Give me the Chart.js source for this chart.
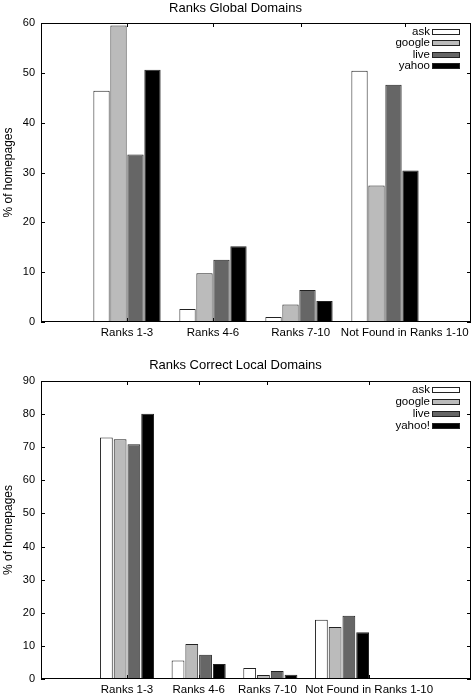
<!DOCTYPE html>
<html>
<head>
<meta charset="utf-8">
<title>Ranks Global / Local Domains</title>
<script src="https://cdn.jsdelivr.net/npm/chart.js@4.4.1/dist/chart.umd.min.js"></script>
<style>
    html, body { margin: 0; padding: 0; background: #fff; }
    canvas { display: block; }
</style>
</head>
<body>
<canvas id="chartGlobal" width="472" height="340"></canvas>
<canvas id="chartLocal" width="472" height="357"></canvas>
<script>
// categories along the x axis (same for both panels)
const categories = ['Ranks 1-3', 'Ranks 4-6', 'Ranks 7-10', 'Not Found in Ranks 1-10'];

// top panel: Ranks Global Domains (% of homepages)
const globalSeries = ['ask', 'google', 'live', 'yahoo'];
const globalAsk    = [46.4, 2.6, 1.0, 50.4];
const globalGoogle = [59.5, 9.8, 3.5, 27.4];
const globalLive   = [33.6, 12.5, 6.4, 47.6];
const globalYahoo  = [50.6, 15.2, 4.2, 30.4];
const globalTicks  = [0, 10, 20, 30, 40, 50, 60];

// bottom panel: Ranks Correct Local Domains (% of homepages)
const localSeries = ['ask', 'google', 'live', 'yahoo!'];
const localAsk    = [72.9, 5.6, 3.3, 17.9];
const localGoogle = [72.4, 10.6, 1.2, 15.7];
const localLive   = [70.9, 7.3, 2.4, 19.1];
const localYahoo  = [80.1, 4.5, 1.3, 14.1];
const localTicks  = [0, 10, 20, 30, 40, 50, 60, 70, 80, 90];

(function () {
    'use strict';

    Chart.defaults.font.family = "'Liberation Sans', Arial, Helvetica, sans-serif";
    Chart.defaults.color = '#000';

    const fills = ['#ffffff', '#bbbbbb', '#666666', '#000000'];
    const TICK = 4;

    // gnuplot look: closed frame, inward mirrored tics, key in the top-right corner
    const gnuplotFrame = {
        id: 'gnuplotFrame',
        beforeDatasetsDraw(chart) {
            const { ctx, chartArea: a, scales: { x, y } } = chart;
            ctx.save();
            ctx.strokeStyle = '#000';
            ctx.lineWidth = 1;
            ctx.beginPath();
            y.ticks.forEach(t => {
                const py = Math.round(y.getPixelForValue(t.value)) + 0.5;
                ctx.moveTo(a.left, py); ctx.lineTo(a.left + TICK, py);
                ctx.moveTo(a.right, py); ctx.lineTo(a.right - TICK, py);
            });
            x.ticks.forEach(t => {
                const px = Math.round(x.getPixelForValue(t.value)) + 0.5;
                ctx.moveTo(px, a.top); ctx.lineTo(px, a.top + TICK);
                ctx.moveTo(px, a.bottom); ctx.lineTo(px, a.bottom - TICK);
            });
            ctx.stroke();
            ctx.restore();
        },
        afterDatasetsDraw(chart, args, opts) {
            const { ctx, chartArea: a } = chart;
            ctx.save();
            ctx.strokeStyle = '#000';
            ctx.lineWidth = 1;
            ctx.strokeRect(Math.round(a.left) + 0.5, Math.round(a.top) + 0.5,
                Math.round(a.right - a.left) - 1, Math.round(a.bottom - a.top) - 1);

            // key
            ctx.font = "11.5px 'Liberation Sans', Arial, sans-serif";
            ctx.textAlign = 'right';
            ctx.textBaseline = 'middle';
            chart.data.datasets.forEach((ds, i) => {
                const cy = Math.round(a.top + opts.keyTop + i * opts.keyStep);
                const bx = Math.round(a.right) - 39;
                ctx.fillStyle = '#000';
                ctx.fillText(ds.label, bx - 2, cy);
                ctx.fillStyle = ds.backgroundColor;
                ctx.fillRect(bx, cy - 3, 28, 6);
                ctx.strokeStyle = '#222';
                ctx.strokeRect(bx + 0.5, cy - 2.5, 27, 5);
            });
            ctx.restore();
        },
    };

    function makeChart(id, cfg) {
        const canvas = document.getElementById(id);
        const datasets = cfg.series.map((name, i) => ({
            label: name,
            data: cfg.values[i].map((v, k) => ({ x: k, y: v })),
            backgroundColor: fills[i],
            borderColor: '#222',
            borderWidth: 1,
            categoryPercentage: cfg.catPct,
            barPercentage: cfg.barPct,
        }));

        return new Chart(canvas, {
            type: 'bar',
            data: { datasets },
            plugins: [gnuplotFrame],
            options: {
                responsive: false,
                animation: false,
                events: [],
                layout: { padding: { right: 1 } },
                plugins: {
                    legend: { display: false },
                    tooltip: { enabled: false },
                    title: {
                        display: true,
                        text: cfg.title,
                        color: '#000',
                        font: { size: 13, weight: 'normal' },
                        padding: cfg.titlePad,
                    },
                    gnuplotFrame: { keyTop: 9, keyStep: cfg.keyStep },
                },
                scales: {
                    x: {
                        type: 'linear',
                        min: cfg.xRange[0],
                        max: cfg.xRange[1],
                        offset: false,
                        grid: { display: false, drawTicks: false, offset: false },
                        border: { display: false },
                        afterBuildTicks: s => { s.ticks = cfg.labelPos.map(v => ({ value: v })); },
                        ticks: {
                            autoSkip: false,
                            maxRotation: 0,
                            padding: 4,
                            color: '#000',
                            font: { size: 11.5 },
                            callback: (v, i) => categories[i],
                        },
                        afterFit: s => { s.height = 18; s.paddingLeft = 0; s.paddingRight = 0; },
                    },
                    y: {
                        min: 0,
                        max: cfg.yTicks[cfg.yTicks.length - 1],
                        grid: { display: false, drawTicks: false },
                        border: { display: false },
                        afterBuildTicks: s => { s.ticks = cfg.yTicks.map(v => ({ value: v })); },
                        ticks: { padding: 6, color: '#000', font: { size: 11 } },
                        title: {
                            display: true,
                            text: '% of homepages',
                            color: '#000',
                            font: { size: 12 },
                            padding: { top: 1, bottom: 0 },
                        },
                        afterFit: s => { s.width = 41; s.paddingTop = 0; s.paddingBottom = 0; },
                    },
                },
            },
        });
    }

    makeChart('chartGlobal', {
        title: 'Ranks Global Domains',
        series: globalSeries,
        values: [globalAsk, globalGoogle, globalLive, globalYahoo],
        yTicks: globalTicks,
        xRange: [-1, 4],
        labelPos: [0, 1, 2.02, 3.23],
        catPct: 0.79,
        barPct: 0.96,
        titlePad: { top: 1, bottom: 6.4 },
        keyStep: 11.3,
    });

    makeChart('chartLocal', {
        title: 'Ranks Correct Local Domains',
        series: localSeries,
        values: [localAsk, localGoogle, localLive, localYahoo],
        yTicks: localTicks,
        xRange: [-1.2, 4.8],
        labelPos: [0, 1, 1.96, 3.38],
        catPct: 0.8,
        barPct: 0.93,
        titlePad: { top: 18, bottom: 7.4 },
        keyStep: 12,
    });
})();
</script>
</body>
</html>
